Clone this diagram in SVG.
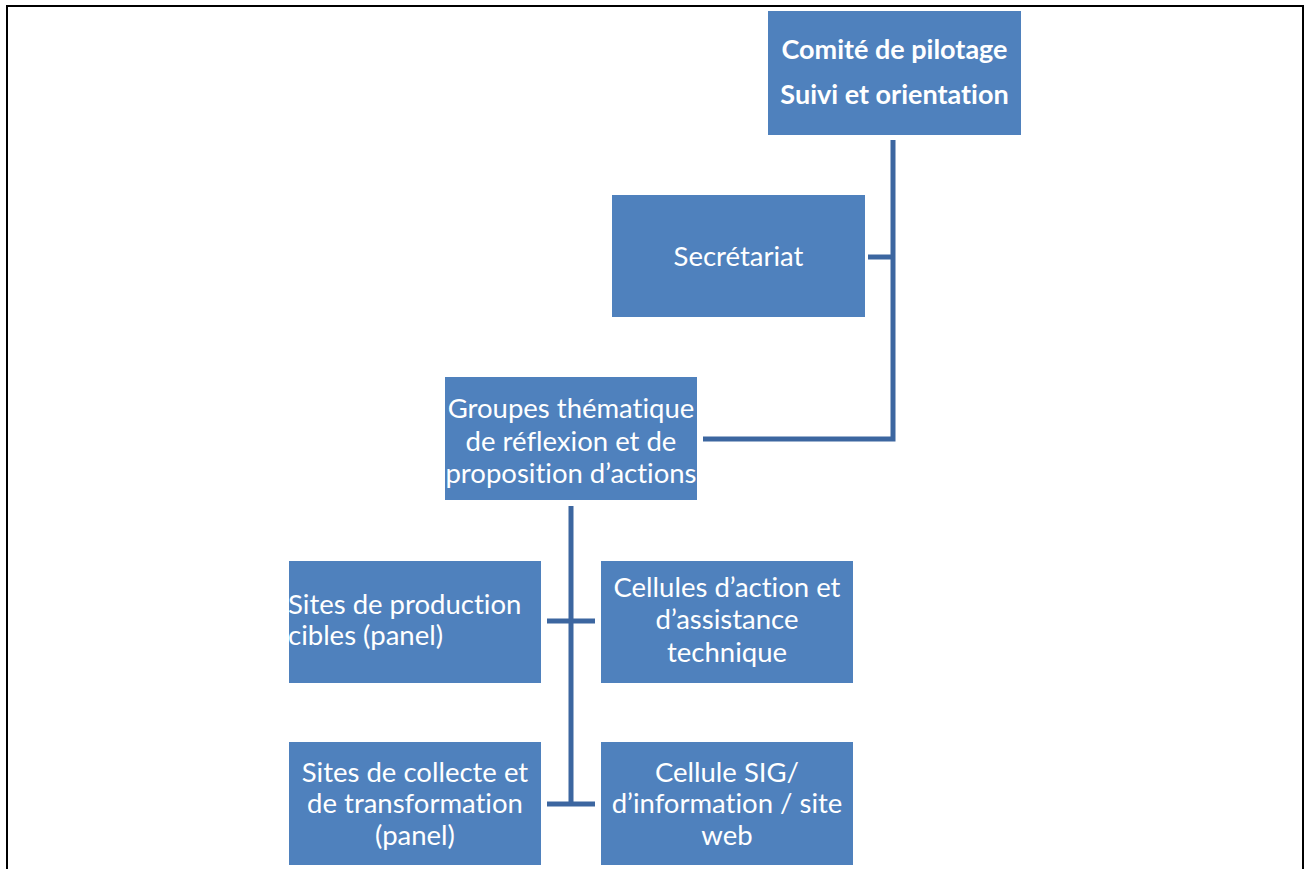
<svg xmlns="http://www.w3.org/2000/svg" width="1306" height="869" viewBox="0 0 1306 869">
  <style>
    .box { fill: #4f81bd; }
    .lbl { fill: #ffffff; font-family: Lato, "Open Sans", "Liberation Sans", sans-serif; font-size: 27.5px; text-anchor: middle; font-variant-ligatures: none; }
    .bold { font-weight: bold; font-size: 27px; }
    .left { text-anchor: start; }
    .wire { stroke: #3c66a0; stroke-width: 5; fill: none; stroke-linecap: butt; }
    .frame { fill: none; stroke: #000000; stroke-width: 2; }
  </style>
  <rect width="1306" height="869" fill="#ffffff"/>
  <!-- outer frame, open at the bottom -->
  <path class="frame" d="M7,869 V6 H1303 V869"/>

  <g id="connectors">
    <!-- steering committee spine -->
    <path class="wire" d="M893,140 V439 H703"/>
    <path class="wire" d="M868,257 H893"/>
    <!-- thematic groups spine -->
    <path class="wire" d="M571,506 V804"/>
    <path class="wire" d="M547,621 H595"/>
    <path class="wire" d="M547,804 H595"/>
  </g>

  <g id="comite">
    <rect class="box" x="768" y="11" width="253" height="124"/>
    <text class="lbl bold" x="894.5" y="59">Comité de pilotage</text>
    <text class="lbl bold" x="894.5" y="104">Suivi et orientation</text>
  </g>

  <g id="secretariat">
    <rect class="box" x="612" y="195" width="253" height="122"/>
    <text class="lbl" x="738.5" y="266">Secrétariat</text>
  </g>

  <g id="groupes">
    <rect class="box" x="445" y="377" width="252" height="123"/>
    <text class="lbl" x="571" y="418">Groupes thématique</text>
    <text class="lbl" x="571" y="451">de réflexion et de</text>
    <text class="lbl" x="571" y="483">proposition d’actions</text>
  </g>

  <g id="sites-production">
    <rect class="box" x="289" y="561" width="252" height="122"/>
    <text class="lbl left" x="288" y="614">Sites de production</text>
    <text class="lbl left" x="288" y="645">cibles (panel)</text>
  </g>

  <g id="cellules-action">
    <rect class="box" x="601" y="561" width="252" height="122"/>
    <text class="lbl" x="727" y="597">Cellules d’action et</text>
    <text class="lbl" x="727" y="629">d’assistance</text>
    <text class="lbl" x="727" y="662">technique</text>
  </g>

  <g id="sites-collecte">
    <rect class="box" x="289" y="742" width="252" height="123"/>
    <text class="lbl" x="415" y="782">Sites de collecte et</text>
    <text class="lbl" x="415" y="813">de transformation</text>
    <text class="lbl" x="415" y="845">(panel)</text>
  </g>

  <g id="cellule-sig">
    <rect class="box" x="601" y="742" width="252" height="123"/>
    <text class="lbl" x="727" y="782">Cellule SIG/</text>
    <text class="lbl" x="727" y="813">d’information / site</text>
    <text class="lbl" x="727" y="845">web</text>
  </g>
</svg>
